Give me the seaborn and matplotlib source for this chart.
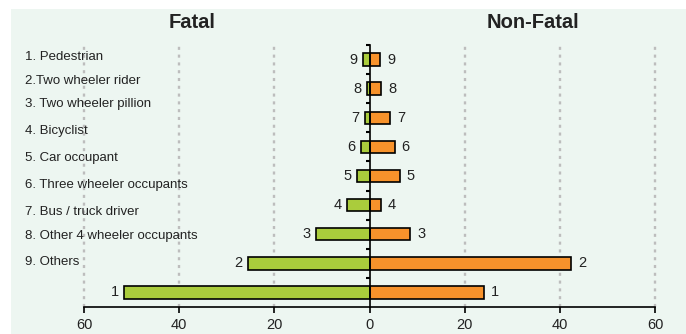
import numpy as np
import pandas as pd
import matplotlib
matplotlib.use("Agg")
import matplotlib.pyplot as plt
import seaborn as sns
from matplotlib.patches import Rectangle

# ---- data ----
ranks = ["9", "8", "7", "6", "5", "4", "3", "2", "1"]
fatal = [1.4, 0.5, 1.0, 1.8, 2.7, 4.7, 11.2, 25.5, 51.5]
non_fatal = [2.2, 2.5, 4.4, 5.3, 6.4, 2.4, 8.6, 42.4, 24.0]
categories = [
    "1. Pedestrian",
    "2.Two wheeler rider",
    "3. Two wheeler pillion",
    "4. Bicyclist",
    "5. Car occupant",
    "6. Three wheeler occupants",
    "7. Bus / truck driver",
    "8. Other 4 wheeler occupants",
    "9. Others",
]
x_ticks = [-60, -40, -20, 0, 20, 40, 60]
x_ticklabels = ["60", "40", "20", "0", "20", "40", "60"]
headers = ["Fatal", "Non-Fatal"]

GREEN = "#AACC3C"
ORANGE = "#F7922B"
BG = "#EDF6F1"

sns.set_theme(style="white")
plt.rcParams["font.family"] = ["Liberation Sans", "DejaVu Sans"]

df = pd.DataFrame({"rank": ranks, "fatal": fatal, "non_fatal": non_fatal})
df["fatal_left"] = -df["fatal"]

W, H = 686, 334
fig = plt.figure(figsize=(W / 100, H / 100), dpi=100, facecolor="white")

# mint background panel
fig.patches.append(Rectangle((11 / W, 0), 1 - 11 / W, 1 - 9 / H,
                             transform=fig.transFigure, facecolor=BG,
                             edgecolor="none", zorder=-10))

ax = fig.add_axes([84 / W, (H - 307) / H, (655 - 84) / W, (307 - 45) / H])
ax.set_facecolor("none")
ax.set_zorder(2)

sns.barplot(data=df, y="rank", x="fatal_left", order=ranks, orient="h",
            color=GREEN, saturation=1, edgecolor="black", linewidth=1.2,
            width=0.43, ax=ax, zorder=3)
sns.barplot(data=df, y="rank", x="non_fatal", order=ranks, orient="h",
            color=ORANGE, saturation=1, edgecolor="black", linewidth=1.2,
            width=0.43, ax=ax, zorder=3)

ax.set_xlim(-60, 60)
ax.set_ylim(8.5, -0.5)
ax.set_xlabel("")
ax.set_ylabel("")

# rank labels at bar ends
for i, r in enumerate(ranks):
    ax.annotate(r, (-fatal[i], i), xytext=(-4, 0), textcoords="offset points",
                ha="right", va="center", fontsize=10.5, color="#222222")
    ax.annotate(r, (non_fatal[i], i), xytext=(5, 0), textcoords="offset points",
                ha="left", va="center", fontsize=10.5, color="#222222")

# axes styling
ax.set_xticks(x_ticks)
ax.set_xticklabels(x_ticklabels, fontsize=10.5, color="#222222")
ax.set_yticks(np.arange(-0.5, 8.0, 1.0))
ax.set_yticklabels([])
ax.tick_params(axis="x", direction="out", length=4, width=1.2, color="black",
               pad=4, bottom=True)
ax.tick_params(axis="y", direction="out", length=3, width=1.5, color="black", left=True)
for s in ["top", "right"]:
    ax.spines[s].set_visible(False)
ax.spines["left"].set_position(("data", 0))
ax.spines["left"].set_zorder(5)
ax.spines["left"].set_color("black")
ax.spines["left"].set_linewidth(1.2)
ax.spines["bottom"].set_color("black")
ax.spines["bottom"].set_linewidth(1.2)

for gx in [-60, -40, -20, 20, 40, 60]:
    ax.axvline(gx, color="#BDBDBD", linewidth=1.7, linestyle=(0, (1.3, 2.0)),
               zorder=1, clip_on=False)

# headers
fig.text(192 / W, 1 - 23 / H, headers[0], ha="center", va="center",
         fontsize=14.5, fontweight="bold", color="#222222")
fig.text(533 / W, 1 - 23 / H, headers[1], ha="center", va="center",
         fontsize=14.5, fontweight="bold", color="#222222")

# category list on the left
label_y = [57, 81, 104, 131, 158, 185, 212, 236, 262]
for txt, yy in zip(categories, label_y):
    fig.text(25 / W, 1 - yy / H, txt, ha="left", va="center",
             fontsize=9.5, color="#222222")

fig.savefig("out.png", dpi=100, facecolor=fig.get_facecolor())
